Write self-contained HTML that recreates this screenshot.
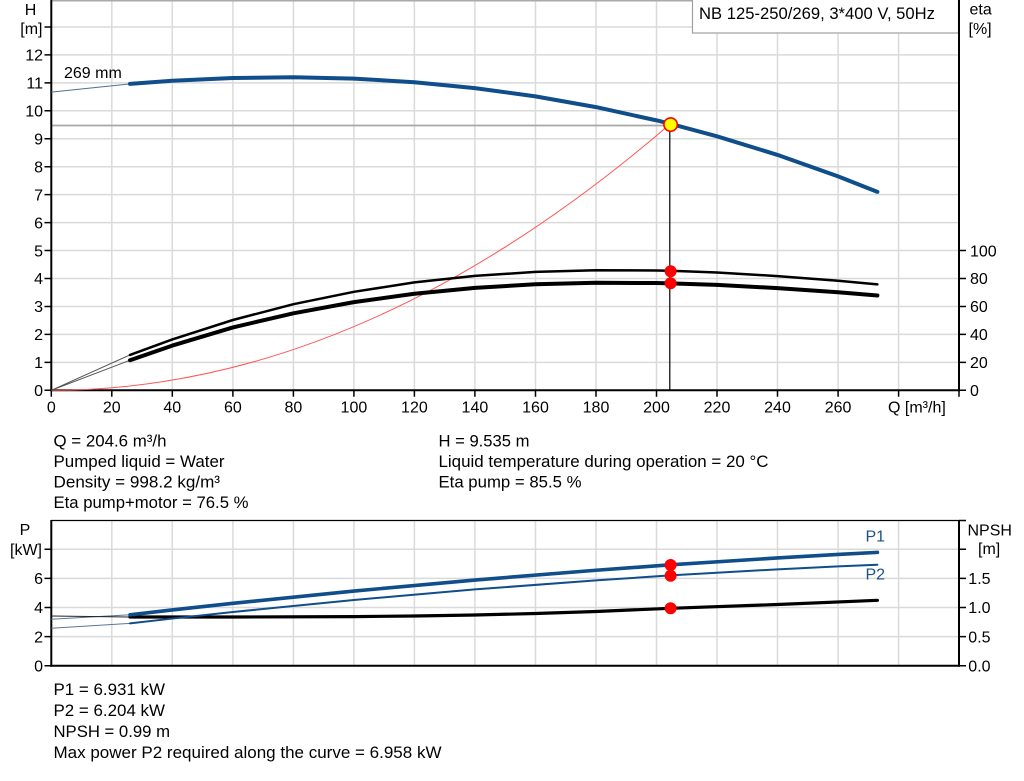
<!DOCTYPE html>
<html><head><meta charset="utf-8"><style>
html,body{margin:0;padding:0;background:#fff;}
svg{display:block;font-family:"Liberation Sans",Arial,sans-serif;}
</style></head><body>
<svg width="1024" height="781" viewBox="0 0 1024 781" xmlns="http://www.w3.org/2000/svg">
<rect width="1024" height="781" fill="#fff"/>
<!-- TOP CHART GRID -->
<g stroke="#dadada" stroke-width="1.5" fill="none">
<path d="M111.8 0V390M172.3 0V390M232.9 0V390M293.4 0V390M353.9 0V390M414.4 0V390M474.9 0V390M535.5 0V390M596 0V390M656.5 0V390M717 0V390M777.5 0V390M838.1 0V390M898.6 0V390"/>
<path d="M51 362.35H959M51 334.4H959M51 306.45H959M51 278.5H959M51 250.55H959M51 222.6H959M51 194.65H959M51 166.7H959M51 138.75H959M51 110.8H959M51 82.85H959M51 54.9H959M51 26.95H959"/>
</g>
<path d="M51 0.75H959" stroke="#aaa" stroke-width="1.5"/>
<!-- legend box -->
<rect x="692.5" y="-1" width="266" height="34" fill="#fff" stroke="#a0a0a0" stroke-width="1.2"/>
<text x="699" y="19" font-size="16.5" textLength="236" lengthAdjust="spacingAndGlyphs">NB 125-250/269, 3*400 V, 50Hz</text>
<!-- operating horizontal line -->
<path d="M51 125.5H670" stroke="#a8a8a8" stroke-width="1.8"/>
<!-- axes -->
<g stroke="#000" fill="none">
<path d="M51.3 0V391.3" stroke-width="2"/>
<path d="M959 0V391.3" stroke-width="2"/>
<path d="M50.3 390.3H960" stroke-width="2"/>
<path stroke-width="1.5" d="M44.5 390.3H51M44.5 362.35H51M44.5 334.4H51M44.5 306.45H51M44.5 278.5H51M44.5 250.55H51M44.5 222.6H51M44.5 194.65H51M44.5 166.7H51M44.5 138.75H51M44.5 110.8H51M44.5 82.85H51M44.5 54.9H51M44.5 26.95H51"/>
<path stroke-width="1.5" d="M959 390.3H966M959 362.35H966M959 334.4H966M959 306.45H966M959 278.5H966M959 250.55H966"/>
<path stroke-width="1.5" d="M51.3 390V396.7M111.8 390V396.7M172.3 390V396.7M232.9 390V396.7M293.4 390V396.7M353.9 390V396.7M414.4 390V396.7M474.9 390V396.7M535.5 390V396.7M596 390V396.7M656.5 390V396.7M717 390V396.7M777.5 390V396.7M838.1 390V396.7M898.6 390V396.7M959 390V396.7"/>
</g>
<!-- top chart labels -->
<g font-size="16" fill="#000" text-anchor="end">
<text x="43" y="396">0</text><text x="43" y="368.05">1</text><text x="43" y="340.1">2</text><text x="43" y="312.15">3</text><text x="43" y="284.2">4</text><text x="43" y="256.25">5</text><text x="43" y="228.3">6</text><text x="43" y="200.35">7</text><text x="43" y="172.4">8</text><text x="43" y="144.45">9</text><text x="43" y="116.5">10</text><text x="43" y="88.55">11</text><text x="43" y="60.6">12</text>
<text x="42.5" y="34">[m]</text>
</g>
<text x="30.5" y="15" font-size="16" text-anchor="middle">H</text>
<g font-size="16" fill="#000">
<text x="970" y="396">0</text><text x="970" y="368.05">20</text><text x="970" y="340.1">40</text><text x="970" y="312.15">60</text><text x="970" y="284.2">80</text><text x="970" y="256.25">100</text>
<text x="969.5" y="14.7">eta</text><text x="968.5" y="34">[%]</text>
</g>
<g font-size="16" fill="#000" text-anchor="middle">
<text x="51.3" y="412.7">0</text><text x="111.8" y="412.7">20</text><text x="172.3" y="412.7">40</text><text x="232.9" y="412.7">60</text><text x="293.4" y="412.7">80</text><text x="353.9" y="412.7">100</text><text x="414.4" y="412.7">120</text><text x="474.9" y="412.7">140</text><text x="535.5" y="412.7">160</text><text x="596" y="412.7">180</text><text x="656.5" y="412.7">200</text><text x="717" y="412.7">220</text><text x="777.5" y="412.7">240</text><text x="838.1" y="412.7">260</text>
</g>
<text x="888" y="412.7" font-size="16">Q [m³/h]</text>
<text x="64" y="78" font-size="16">269 mm</text>
<!-- system curve -->
<path d="M51.3 390.3Q360.85 390.3 670.4 123.8" fill="none" stroke="#ff5555" stroke-width="1"/>
<!-- thin extensions -->
<path d="M51.3 92.1L130 83.9" stroke="#50708f" stroke-width="1" fill="none"/>
<path d="M51.3 390.3L130 354.9M51.3 390.3L130 360.25" stroke="#555" stroke-width="1" fill="none"/>
<!-- curves -->
<polyline fill="none" stroke="#0f4e8b" stroke-width="4" stroke-linejoin="round" stroke-linecap="round" points="130,83.88 172.3,80.77 232.9,78.0 293.4,77.26 353.9,78.64 414.4,82.23 474.9,88.1 535.5,96.37 596.0,107.1 656.5,120.37 670.4,123.8 717.0,136.28 777.5,154.92 838.1,176.37 877.4,191.86"/>
<polyline fill="none" stroke="#000" stroke-width="2.5" stroke-linejoin="round" stroke-linecap="round" points="130,354.9 172.3,339.45 232.9,320.0 293.4,304.2 353.9,291.8 414.4,282.4 474.9,275.9 535.5,271.9 596.0,270.2 656.5,270.5 670.4,270.8 717.0,272.5 777.5,276.1 838.1,280.7 877.4,284.4"/>
<polyline fill="none" stroke="#000" stroke-width="4" stroke-linejoin="round" stroke-linecap="round" points="130,360.25 172.3,345.6 232.9,327.4 293.4,313.3 353.9,302.1 414.4,293.75 474.9,287.9 535.5,284.3 596.0,282.8 656.5,283.05 670.4,283.4 717.0,284.9 777.5,288.1 838.1,292.2 877.4,295.5"/>
<!-- operating vertical line -->
<path d="M669.8 124V390" stroke="#000" stroke-width="1.2"/>
<circle cx="670.6" cy="271.3" r="6" fill="#ff0000"/>
<circle cx="670.6" cy="283.3" r="6" fill="#ff0000"/>
<circle cx="670.6" cy="124.6" r="6.7" fill="#ffff00" stroke="#ff0000" stroke-width="1.6"/>

<!-- TEXT BLOCK 1 -->
<g font-size="16.5" fill="#000">
<text x="53.5" y="446.7" textLength="113" lengthAdjust="spacingAndGlyphs">Q = 204.6 m³/h</text>
<text x="53.5" y="466.9" textLength="171" lengthAdjust="spacingAndGlyphs">Pumped liquid = Water</text>
<text x="53.5" y="487.3" textLength="166.5" lengthAdjust="spacingAndGlyphs">Density = 998.2 kg/m³</text>
<text x="53.5" y="508.2" textLength="195" lengthAdjust="spacingAndGlyphs">Eta pump+motor = 76.5 %</text>
<text x="438.5" y="446.7" textLength="91" lengthAdjust="spacingAndGlyphs">H = 9.535 m</text>
<text x="438.5" y="466.9" textLength="330" lengthAdjust="spacingAndGlyphs">Liquid temperature during operation = 20 °C</text>
<text x="438.5" y="487.3" textLength="143" lengthAdjust="spacingAndGlyphs">Eta pump = 85.5 %</text>
</g>

<!-- BOTTOM CHART -->
<g stroke="#dadada" stroke-width="1.5" fill="none">
<path d="M111.8 520.5V665.7M172.3 520.5V665.7M232.9 520.5V665.7M293.4 520.5V665.7M353.9 520.5V665.7M414.4 520.5V665.7M474.9 520.5V665.7M535.5 520.5V665.7M596 520.5V665.7M656.5 520.5V665.7M717 520.5V665.7M777.5 520.5V665.7M838.1 520.5V665.7M898.6 520.5V665.7"/>
<path d="M51 636.6H959M51 607.5H959M51 578.4H959M51 549.3H959"/>
</g>
<g stroke="#000" fill="none">
<path d="M51 520.5H959" stroke-width="1.2"/>
<path d="M51.3 520V666.7" stroke-width="2"/>
<path d="M959 520V666.7" stroke-width="2"/>
<path d="M50.3 665.7H960" stroke-width="2"/>
<path stroke-width="1.5" d="M44.5 665.7H51M44.5 636.6H51M44.5 607.5H51M44.5 578.4H51M44.5 549.3H51"/>
<path stroke-width="1.5" d="M959 665.7H966M959 636.6H966M959 607.5H966M959 578.4H966M959 549.3H966M959 520.5H966"/>
</g>
<g font-size="16" fill="#000" text-anchor="end">
<text x="43" y="671.4">0</text><text x="43" y="642.3">2</text><text x="43" y="613.2">4</text><text x="43" y="584.1">6</text>
<text x="42" y="555">[kW]</text>
</g>
<text x="25" y="535" font-size="16" text-anchor="middle">P</text>
<g font-size="16" fill="#000">
<text x="968.3" y="671.4">0.0</text><text x="968.3" y="642.3">0.5</text><text x="968.3" y="613.2">1.0</text><text x="968.3" y="584.1">1.5</text>
<text x="967.5" y="535.7">NPSH</text><text x="978" y="554">[m]</text>
</g>
<text x="865.5" y="541.7" font-size="16" fill="#1a5189">P1</text>
<text x="865.5" y="579.7" font-size="16" fill="#1a5189">P2</text>
<!-- thin extensions -->
<path d="M51.3 619.3L130 614.8M51.3 628.3L130 623.4" stroke="#5a7896" stroke-width="1" fill="none"/>
<path d="M51.3 616L130 617" stroke="#222" stroke-width="1" fill="none"/>
<!-- curves -->
<polyline fill="none" stroke="#000" stroke-width="3.2" stroke-linejoin="round" stroke-linecap="round" points="130,617 232.9,617 353.9,616.6 414.4,616 474.9,615 535.5,613.5 596,611.5 670.4,608.3 777.5,604.5 877.4,600.3"/>
<polyline fill="none" stroke="#0f4e8b" stroke-width="2" stroke-linejoin="round" stroke-linecap="round" points="130,623.36 172.3,618.56 232.9,612.01 353.9,600.0 474.9,589.43 596.0,580.32 670.4,575.43 777.5,569.36 838.1,566.43 877.4,564.72"/>
<polyline fill="none" stroke="#0f4e8b" stroke-width="3.6" stroke-linejoin="round" stroke-linecap="round" points="130,614.78 172.3,609.96 232.9,603.34 353.9,591.06 474.9,580.02 596.0,570.24 670.4,564.85 777.5,557.93 838.1,554.45 877.4,552.36"/>
<circle cx="670.6" cy="565" r="6" fill="#ff0000"/>
<circle cx="670.6" cy="575.7" r="6" fill="#ff0000"/>
<circle cx="670.6" cy="608.3" r="6" fill="#ff0000"/>

<!-- TEXT BLOCK 2 -->
<g font-size="16.5" fill="#000">
<text x="53.5" y="695" textLength="111.5" lengthAdjust="spacingAndGlyphs">P1 = 6.931 kW</text>
<text x="53.5" y="716" textLength="111.5" lengthAdjust="spacingAndGlyphs">P2 = 6.204 kW</text>
<text x="53.5" y="737" textLength="116.5" lengthAdjust="spacingAndGlyphs">NPSH = 0.99 m</text>
<text x="53.5" y="758" textLength="388" lengthAdjust="spacingAndGlyphs">Max power P2 required along the curve = 6.958 kW</text>
</g>
</svg>
</body></html>
